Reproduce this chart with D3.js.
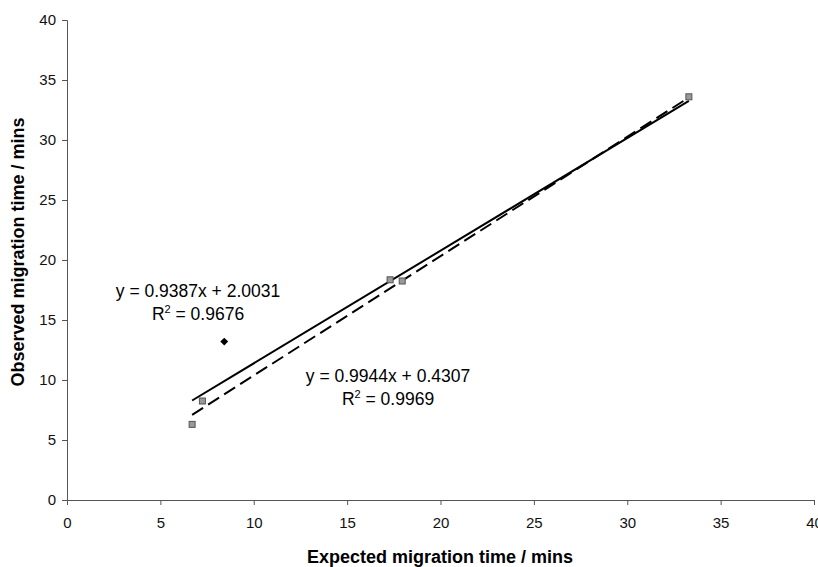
<!DOCTYPE html>
<html>
<head>
	<meta charset="utf-8">
	<script src="https://cdnjs.cloudflare.com/ajax/libs/d3/7.8.5/d3.min.js"></script>
	<style>
		body { margin: 0; background: #fff; }
		text { font-family: Arial, "Liberation Sans", sans-serif; }
	</style>
</head>
<body>
	<script type="text/javascript">

		// data
		let diamondX = [8.42];
		let diamondY = [13.2];
		let squareX = [6.7, 7.25, 17.3, 17.95, 33.3];
		let squareY = [6.3, 8.25, 18.35, 18.25, 33.6];

		// trendlines: [slope, intercept], fitted range
		let solidFit = [0.9387, 2.0031];
		let dashedFit = [0.9944, 0.4307];
		let fitRange = [6.7, 33.3];

		let xTicks = [0, 5, 10, 15, 20, 25, 30, 35, 40];
		let yTicks = [0, 5, 10, 15, 20, 25, 30, 35, 40];

		let svg = d3.select('body').append('svg')
			.attr('width', 818)
			.attr('height', 567);

		let x = d3.scaleLinear().domain([0, 40]).range([67, 814]);
		let y = d3.scaleLinear().domain([0, 40]).range([500, 20]);

		// axes
		let xAxis = svg.append('g')
			.attr('transform', 'translate(0,500)')
			.call(d3.axisBottom(x).tickValues(xTicks).tickSize(5).tickPadding(12));
		let yAxis = svg.append('g')
			.attr('transform', 'translate(67,0)')
			.call(d3.axisLeft(y).tickValues(yTicks).tickSize(5).tickPadding(6));

		[xAxis, yAxis].forEach(function(a){
			a.select('.domain').attr('stroke', '#555').attr('stroke-width', 1);
			a.selectAll('.tick line').attr('stroke', '#555');
			a.selectAll('.tick text')
				.attr('font-size', 15)
				.attr('fill', '#111')
				.style('font-family', 'Arial, "Liberation Sans", sans-serif');
		});

		// trendlines
		function fitLine(f){
			return fitRange.map(v => [x(v), y(f[0] * v + f[1])]);
		}
		let line = d3.line();

		svg.append('path')
			.attr('d', line(fitLine(dashedFit)))
			.attr('fill', 'none')
			.attr('stroke', '#000')
			.attr('stroke-width', 2)
			.attr('stroke-dasharray', '13,6');

		svg.append('path')
			.attr('d', line(fitLine(solidFit)))
			.attr('fill', 'none')
			.attr('stroke', '#000')
			.attr('stroke-width', 2);

		// square markers
		svg.selectAll('rect.sq').data(squareX).enter().append('rect')
			.attr('class', 'sq')
			.attr('x', (d, i) => x(d) - 3)
			.attr('y', (d, i) => y(squareY[i]) - 3)
			.attr('width', 6)
			.attr('height', 6)
			.attr('fill', '#999')
			.attr('stroke', '#555')
			.attr('stroke-width', 1);

		// diamond markers
		svg.selectAll('path.dm').data(diamondX).enter().append('path')
			.attr('class', 'dm')
			.attr('d', d3.symbol().type(d3.symbolDiamond2).size(40))
			.attr('transform', (d, i) => 'translate(' + x(d) + ',' + y(diamondY[i]) + ')')
			.attr('fill', '#000');

		// equation labels
		function eq(cx, cy, a, b, r2){
			svg.append('text')
				.attr('x', cx).attr('y', cy)
				.attr('text-anchor', 'middle')
				.attr('font-size', 17.5)
				.text('y = ' + a + 'x + ' + b);
			let t = svg.append('text')
				.attr('x', cx).attr('y', cy + 23)
				.attr('text-anchor', 'middle')
				.attr('font-size', 17.5);
			t.append('tspan').text('R');
			t.append('tspan').attr('font-size', 11).attr('dy', -7).text('2');
			t.append('tspan').attr('dy', 7).text(' = ' + r2);
		}
		eq(198, 297, '0.9387', '2.0031', '0.9676');
		eq(388, 382, '0.9944', '0.4307', '0.9969');

		// axis titles
		svg.append('text')
			.attr('x', 440).attr('y', 563)
			.attr('text-anchor', 'middle')
			.attr('font-size', 18)
			.attr('font-weight', 'bold')
			.text('Expected migration time / mins');

		svg.append('text')
			.attr('transform', 'translate(24,252) rotate(-90)')
			.attr('text-anchor', 'middle')
			.attr('font-size', 18)
			.attr('font-weight', 'bold')
			.text('Observed migration time / mins');

	</script>
</body>
</html>
